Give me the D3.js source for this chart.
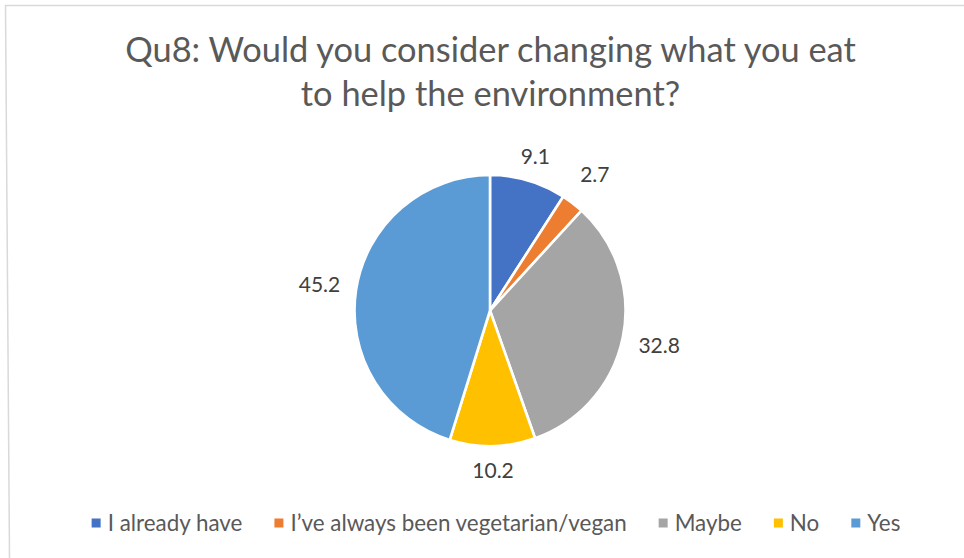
<!DOCTYPE html>
<html>
<head>
<meta charset="utf-8">
<script src="https://cdn.jsdelivr.net/npm/d3@7"></script>
<style>
  html, body { margin: 0; padding: 0; background: #ffffff; }
  svg { display: block; }
</style>
</head>
<body>
<svg id="chart" width="964" height="558"></svg>
<script>
// Survey responses (percent of respondents)
const categories = [
  "I already have",
  "I\u2019ve always been vegetarian/vegan",
  "Maybe",
  "No",
  "Yes"
];
const values = [9.1, 2.7, 32.8, 10.2, 45.2];
const sliceColors = ["#4472C4", "#ED7D31", "#A5A5A5", "#FFC000", "#5B9BD5"];
const titleLines = [
  "Qu8: Would you consider changing what you eat",
  "to help the environment?"
];

const W = 964, H = 558;
const FONT = "Lato, 'Open Sans', 'Liberation Sans', sans-serif";
const svg = d3.select("#chart");

// Chart frame
svg.append("line")
  .attr("x1", 5).attr("y1", 5.5).attr("x2", W).attr("y2", 5.5)
  .attr("stroke", "#d9d9d9").attr("stroke-width", 1.5);
svg.append("line")
  .attr("x1", 5.5).attr("y1", 5).attr("x2", 9.5).attr("y2", H)
  .attr("stroke", "#d9d9d9").attr("stroke-width", 1.5);

// Title: sized so the first line spans the header width
const titleCenterX = 490.5;
const titleTargetWidth = 731;
const titleG = svg.append("g");
const t0 = titleG.append("text")
  .attr("font-family", FONT).attr("font-size", 30)
  .text(titleLines[0]);
const titleSize = 30 * titleTargetWidth / t0.node().getComputedTextLength();
t0.remove();
titleG.selectAll("text")
  .data(titleLines)
  .join("text")
  .attr("x", titleCenterX)
  .attr("y", (d, i) => 62 + i * 44)
  .attr("text-anchor", "middle")
  .attr("font-family", FONT)
  .attr("font-size", titleSize)
  .attr("fill", "#595959")
  .text(d => d);

// Pie
const cx = 490, cy = 310.5, radius = 135.5;
const pie = d3.pie().sort(null).value(d => d)(values);
const arc = d3.arc().innerRadius(0).outerRadius(radius);

const pieG = svg.append("g").attr("transform", `translate(${cx},${cy})`);
pieG.selectAll("path")
  .data(pie)
  .join("path")
  .attr("d", arc)
  .attr("fill", (d, i) => sliceColors[i])
  .attr("stroke", "#ffffff")
  .attr("stroke-width", 2.6)
  .attr("stroke-linejoin", "round");

// Data labels placed just outside each slice's outer edge;
// narrow slices get a little extra room so their labels stay clear
const labelPad = 16;
const labelSize = 21;
const labels = pieG.selectAll("text.val")
  .data(pie)
  .join("text")
  .attr("class", "val")
  .attr("font-family", FONT)
  .attr("font-size", labelSize)
  .attr("fill", "#404040")
  .attr("text-anchor", "middle")
  .attr("dy", "0.36em")
  .text(d => d3.format(".1f")(d.data));

labels.each(function(d) {
  const a = (d.startAngle + d.endAngle) / 2;
  const sx = Math.sin(a), sy = -Math.cos(a);
  const w = this.getComputedTextLength();
  const h = labelSize * 0.85;
  const ex = Math.abs(sx) > 1e-6 ? (w / 2) / Math.abs(sx) : Infinity;
  const ey = Math.abs(sy) > 1e-6 ? (h / 2) / Math.abs(sy) : Infinity;
  const narrow = (d.endAngle - d.startAngle) < 0.25 ? 9 : 0;
  const dist = radius + labelPad + narrow + Math.min(ex, ey);
  d3.select(this).attr("x", sx * dist).attr("y", sy * dist);
});

// Legend, centred under the pie
const legendY = 523;
const markerSize = 9, markerGap = 7, itemGap = 32;
const legendTextTarget = 601;
const legendG = svg.append("g");
const probe = legendG.selectAll("text.probe")
  .data(categories).join("text")
  .attr("class", "probe")
  .attr("font-family", FONT).attr("font-size", 18)
  .text(d => d);
let probeTotal = 0;
probe.each(function() { probeTotal += this.getComputedTextLength(); });
probe.remove();
const legendSize = 18 * legendTextTarget / probeTotal;

const items = legendG.selectAll("g.item")
  .data(categories).join("g").attr("class", "item");
items.append("text")
  .attr("font-family", FONT)
  .attr("font-size", legendSize)
  .attr("fill", "#595959")
  .attr("dy", "0.35em")
  .text(d => d);
const widths = [];
items.select("text").each(function() { widths.push(this.getComputedTextLength()); });
const totalW = d3.sum(widths) + categories.length * (markerSize + markerGap) + (categories.length - 1) * itemGap;
let x = 496 - totalW / 2;
items.each(function(d, i) {
  const g = d3.select(this).attr("transform", `translate(${x},${legendY})`);
  g.insert("rect", "text")
    .attr("x", 0).attr("y", -markerSize / 2)
    .attr("width", markerSize).attr("height", markerSize)
    .attr("fill", sliceColors[i]);
  g.select("text").attr("x", markerSize + markerGap);
  x += markerSize + markerGap + widths[i] + itemGap;
});
</script>
</body>
</html>
